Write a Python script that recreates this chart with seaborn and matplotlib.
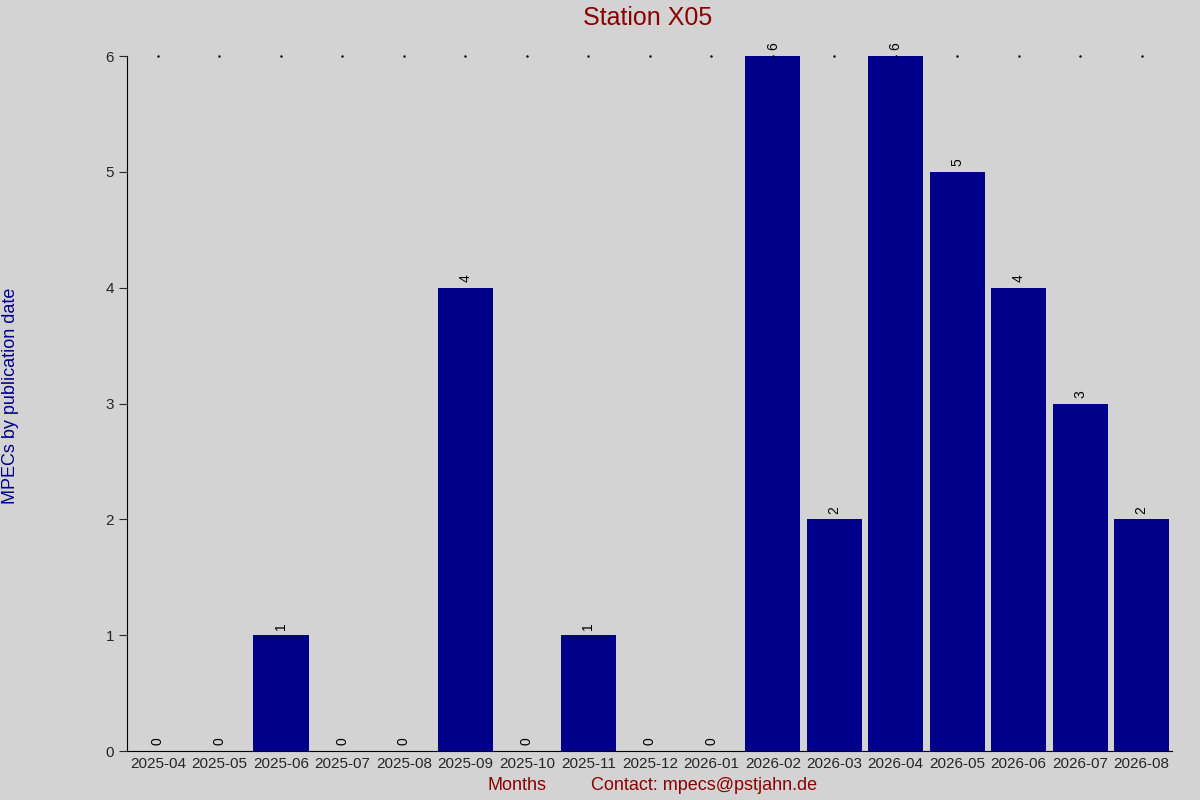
import matplotlib
matplotlib.use("Agg")
import matplotlib.pyplot as plt
import seaborn as sns
import pandas as pd

months = ["2025-04","2025-05","2025-06","2025-07","2025-08","2025-09","2025-10","2025-11",
          "2025-12","2026-01","2026-02","2026-03","2026-04","2026-05","2026-06","2026-07","2026-08"]
counts = [0,0,1,0,0,4,0,1,0,0,6,2,6,5,4,3,2]

sns.set_style("white")
plt.rcParams['font.family'] = ['Liberation Sans', 'DejaVu Sans']
df = pd.DataFrame({"month": months, "count": counts})

fig = plt.figure(figsize=(12, 8), dpi=100, facecolor="#d3d3d3")
ax = fig.add_axes([0.106, 0.061, 0.871, 0.869])
ax.set_facecolor("#d3d3d3")
sns.barplot(data=df, x="month", y="count", color="#00008b", saturation=1, width=0.9, ax=ax)
for p in ax.patches:
    p.set_edgecolor("none")
for i, v in enumerate(counts):
    ax.text(i, v + 0.05, str(v), rotation=90, ha="center", va="bottom", fontsize=10, color="black")
ax.set_xlim(-0.5, 16.5)
ax.set_ylim(0, 6)
ax.set_yticks(range(7))
for s in ["top", "right"]:
    ax.spines[s].set_visible(False)
for s in ["left", "bottom"]:
    ax.spines[s].set_color("black")
    ax.spines[s].set_linewidth(0.8)
ax.tick_params(axis="y", direction="out", length=6, labelsize=11, left=True)
ax.tick_params(axis="x", length=0, labelsize=11, pad=4)
for i in range(17):
    ax.plot(i, 6, marker=".", markersize=1.5, color="black", clip_on=False)
ax.set_xlabel("")
ax.set_ylabel("")
fig.text(0.54, 0.977, "Station X05", ha="center", va="center", fontsize=18, color="#8b0000")
fig.text(0.431, 0.018, "Months", ha="center", va="center", fontsize=13, color="#8b0000")
fig.text(0.587, 0.018, "Contact: mpecs@pstjahn.de", ha="center", va="center", fontsize=13, color="#8b0000")
fig.text(0.009, 0.505, "MPECs by publication date", rotation=90, ha="center", va="center", fontsize=13, color="#00008b")
fig.savefig("out.png", dpi=100, facecolor=fig.get_facecolor())
